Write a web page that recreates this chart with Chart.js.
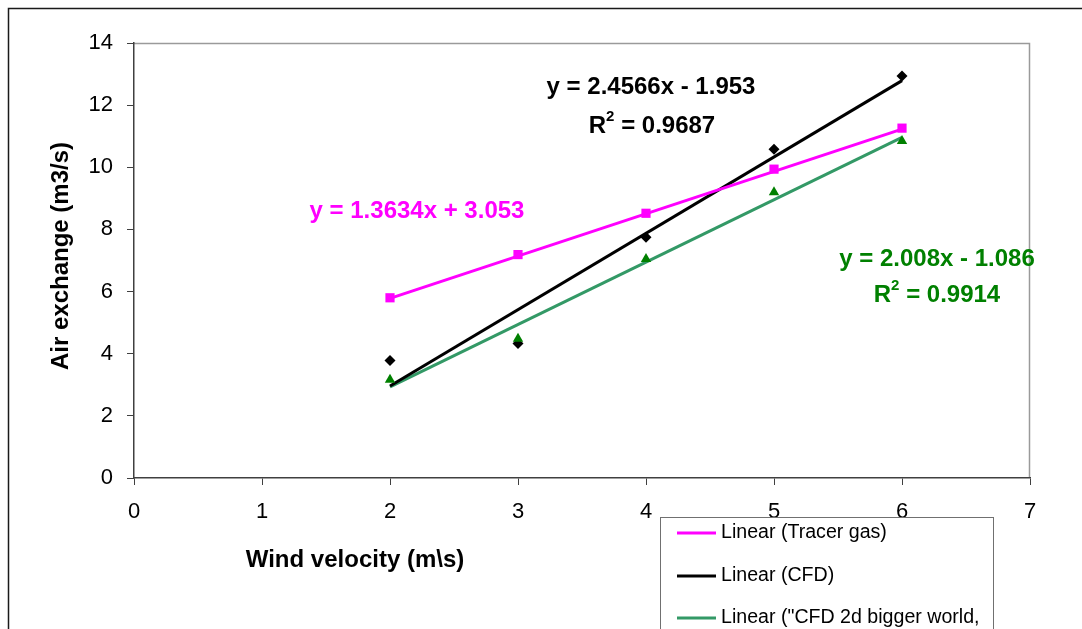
<!DOCTYPE html>
<html>
<head>
<meta charset="utf-8">
<script src="https://cdn.jsdelivr.net/npm/chart.js@4/dist/chart.umd.min.js"></script>
<style>
  html, body { margin: 0; padding: 0; background: #ffffff; }
  #wrap { width: 1082px; height: 629px; position: relative; }
</style>
</head>
<body>
<div id="wrap"><canvas id="c" width="1082" height="629"></canvas></div>
<script>
// ---- data ----
const windVelocity = [2, 3, 4, 5, 6];
const tracerGas   = [5.80, 7.19, 8.52, 9.94, 11.26];
const cfd         = [3.78, 4.33, 7.75, 10.58, 12.94];
const cfd2dBigger = [3.16, 4.48, 7.05, 9.20, 10.85];

// trendline end points (x = 2 and x = 6)
const fitX         = [2, 6];
const tracerFit    = [5.78, 11.23];
const cfdFit       = [2.96, 12.79];
const cfd2dFit     = [2.93, 10.96];

const xTicks = [0, 1, 2, 3, 4, 5, 6, 7];
const yTicks = [0, 2, 4, 6, 8, 10, 12, 14];

const legendLabels = ['Linear (Tracer gas)', 'Linear (CFD)', 'Linear ("CFD 2d bigger world,'];

const eqTracer = 'y = 1.3634x + 3.053';
const eqCfd = 'y = 2.4566x - 1.953';
const r2Cfd = '0.9687';
const eqCfd2d = 'y = 2.008x - 1.086';
const r2Cfd2d = '0.9914';

const MAGENTA = '#FF00FF';
const BLACK = '#000000';
const GREEN_MK = '#008000';
const GREEN_LN = '#339966';
const FONT = '"Liberation Sans", Arial, sans-serif';

function pts(xs, ys) { return xs.map((x, i) => ({ x: x, y: ys[i] })); }

const overlay = {
  id: 'overlay',
  beforeDraw(chart) {
    const ctx = chart.ctx;
    ctx.save();
    ctx.fillStyle = '#ffffff';
    ctx.fillRect(0, 0, chart.width, chart.height);
    // outer chart frame
    ctx.strokeStyle = '#1a1a1a';
    ctx.lineWidth = 1.5;
    ctx.strokeRect(8.5, 8.5, 1200, 800);
    // plot area frame (top & right in gray)
    const a = chart.chartArea;
    ctx.strokeStyle = '#9a9a9a';
    ctx.lineWidth = 1.5;
    ctx.beginPath();
    ctx.moveTo(a.left, a.top + 0.5);
    ctx.lineTo(a.right - 0.5, a.top + 0.5);
    ctx.lineTo(a.right - 0.5, a.bottom);
    ctx.stroke();
    ctx.restore();
  },
  afterDraw(chart) {
    const ctx = chart.ctx;
    ctx.save();
    // axis titles
    ctx.fillStyle = '#000';
    ctx.font = 'bold 24px ' + FONT;
    ctx.textAlign = 'center';
    ctx.textBaseline = 'middle';
    ctx.fillText('Wind velocity (m\\s)', 355, 560);
    ctx.save();
    ctx.translate(61, 256);
    ctx.rotate(-Math.PI / 2);
    ctx.fillText('Air exchange (m3/s)', 0, 0);
    ctx.restore();

    // equations
    function eq(text, cx, cy, color) {
      ctx.font = 'bold 24px ' + FONT;
      ctx.fillStyle = color;
      ctx.textAlign = 'center';
      ctx.textBaseline = 'middle';
      ctx.fillText(text, cx, cy);
    }
    function r2(val, cx, cy, color) {
      ctx.fillStyle = color;
      ctx.textBaseline = 'middle';
      ctx.textAlign = 'left';
      const big = 'bold 24px ' + FONT, small = 'bold 15px ' + FONT;
      ctx.font = big; const wR = ctx.measureText('R').width;
      ctx.font = small; const w2 = ctx.measureText('2').width;
      ctx.font = big; const wRest = ctx.measureText(' = ' + val).width;
      let x = cx - (wR + w2 + wRest) / 2;
      ctx.font = big; ctx.fillText('R', x, cy); x += wR;
      ctx.font = small; ctx.fillText('2', x, cy - 9); x += w2;
      ctx.font = big; ctx.fillText(' = ' + val, x, cy);
    }
    eq(eqCfd, 651, 87, BLACK);
    r2(r2Cfd, 652, 126, BLACK);
    eq(eqTracer, 417, 211, MAGENTA);
    eq(eqCfd2d, 937, 259, GREEN_MK);
    r2(r2Cfd2d, 937, 295, GREEN_MK);

    // legend box
    const lx = 660, ly = 517;
    ctx.fillStyle = '#ffffff';
    ctx.fillRect(lx, ly, 333, 200);
    ctx.strokeStyle = '#707070';
    ctx.lineWidth = 1;
    ctx.strokeRect(lx + 0.5, ly + 0.5, 333, 200);
    const colors = [MAGENTA, BLACK, GREEN_LN];
    const ys = [533, 576, 618];
    ctx.font = '19.6px ' + FONT;
    ctx.textAlign = 'left';
    ctx.textBaseline = 'middle';
    legendLabels.forEach((lab, i) => {
      ctx.strokeStyle = colors[i];
      ctx.lineWidth = 3;
      ctx.beginPath();
      ctx.moveTo(677, ys[i]);
      ctx.lineTo(716, ys[i]);
      ctx.stroke();
      ctx.fillStyle = '#000';
      ctx.fillText(lab, 721, ys[i]);
    });
    ctx.restore();
  }
};

new Chart(document.getElementById('c'), {
  type: 'scatter',
  data: {
    datasets: [
      { label: 'Linear (Tracer gas)', data: pts(fitX, tracerFit), showLine: true, borderColor: MAGENTA, borderWidth: 3, pointRadius: 0, order: 10 },
      { label: 'Linear (CFD)', data: pts(fitX, cfdFit), showLine: true, borderColor: BLACK, borderWidth: 3, pointRadius: 0, order: 11 },
      { label: 'Linear (CFD 2d)', data: pts(fitX, cfd2dFit), showLine: true, borderColor: GREEN_LN, borderWidth: 3, pointRadius: 0, order: 12 },
      { label: 'Tracer gas', data: pts(windVelocity, tracerGas), showLine: false, pointStyle: 'rect', pointRadius: 6.5, backgroundColor: MAGENTA, borderColor: MAGENTA, borderWidth: 0, order: 3 },
      { label: 'CFD', data: pts(windVelocity, cfd), showLine: false, pointStyle: 'rectRot', pointRadius: 5.5, backgroundColor: BLACK, borderColor: BLACK, borderWidth: 0, order: 2 },
      { label: 'CFD 2d bigger world', data: pts(windVelocity, cfd2dBigger), showLine: false, pointStyle: 'triangle', pointRadius: 6, backgroundColor: GREEN_MK, borderColor: GREEN_MK, borderWidth: 0, order: 1 }
    ]
  },
  options: {
    responsive: false,
    animation: false,
    devicePixelRatio: 1,
    layout: { padding: { left: 0, top: 43, right: 52, bottom: 0 } },
    plugins: { legend: { display: false }, tooltip: { enabled: false } },
    scales: {
      x: {
        type: 'linear', min: 0, max: 7,
        afterBuildTicks: s => { s.ticks = xTicks.map(v => ({ value: v })); },
        afterFit: s => { s.height = 151; },
        ticks: { color: '#000', font: { family: FONT, size: 22 }, padding: 14, maxRotation: 0 },
        grid: { drawOnChartArea: false, drawTicks: true, tickLength: 7, color: '#404040', lineWidth: 1 },
        border: { display: true, color: '#404040', width: 1.5 }
      },
      y: {
        type: 'linear', min: 0, max: 14,
        afterBuildTicks: s => { s.ticks = yTicks.map(v => ({ value: v })); },
        afterFit: s => { s.width = 134; },
        ticks: { color: '#000', font: { family: FONT, size: 22 }, padding: 14 },
        grid: { drawOnChartArea: false, drawTicks: true, tickLength: 7, color: '#404040', lineWidth: 1 },
        border: { display: true, color: '#404040', width: 1.5 }
      }
    }
  },
  plugins: [overlay]
});
</script>
</body>
</html>
